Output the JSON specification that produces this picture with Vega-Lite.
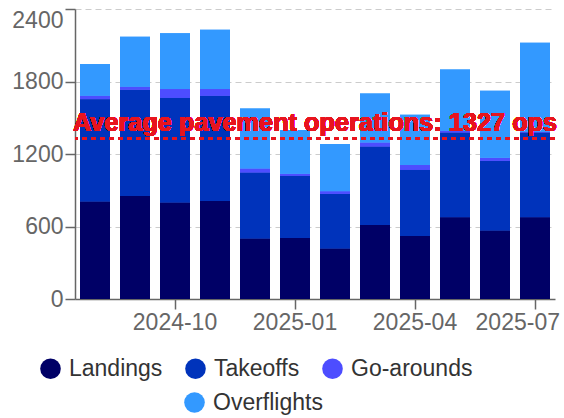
{
  "$schema": "https://vega.github.io/schema/vega-lite/v6.json",
  "width": 480,
  "height": 290,
  "padding": {"left": 11, "top": 8, "right": 0, "bottom": 5},
  "config": {
    "font": "Liberation Sans",
    "view": {"stroke": null},
    "axis": {
      "labelFont": "Liberation Sans",
      "labelFontSize": 23,
      "labelColor": "#666666",
      "domainColor": "#666666",
      "tickColor": "#666666",
      "domainWidth": 1.5,
      "tickWidth": 1.5,
      "tickSize": 10,
      "labelPadding": 2,
      "gridColor": "#cccccc",
      "gridDash": [6, 4],
      "title": null
    },
    "legend": {
      "labelFont": "Liberation Sans",
      "labelFontSize": 23,
      "labelColor": "#333333"
    }
  },
  "data": {
    "values": [
      {"month": "2024-08", "type": "Landings", "value": 806},
      {"month": "2024-08", "type": "Takeoffs", "value": 848},
      {"month": "2024-08", "type": "Go-arounds", "value": 28},
      {"month": "2024-08", "type": "Overflights", "value": 262},
      {"month": "2024-09", "type": "Landings", "value": 853},
      {"month": "2024-09", "type": "Takeoffs", "value": 879},
      {"month": "2024-09", "type": "Go-arounds", "value": 25},
      {"month": "2024-09", "type": "Overflights", "value": 414},
      {"month": "2024-10", "type": "Landings", "value": 798},
      {"month": "2024-10", "type": "Takeoffs", "value": 867},
      {"month": "2024-10", "type": "Go-arounds", "value": 72},
      {"month": "2024-10", "type": "Overflights", "value": 462},
      {"month": "2024-11", "type": "Landings", "value": 812},
      {"month": "2024-11", "type": "Takeoffs", "value": 870},
      {"month": "2024-11", "type": "Go-arounds", "value": 55},
      {"month": "2024-11", "type": "Overflights", "value": 492},
      {"month": "2024-12", "type": "Landings", "value": 500},
      {"month": "2024-12", "type": "Takeoffs", "value": 547},
      {"month": "2024-12", "type": "Go-arounds", "value": 33},
      {"month": "2024-12", "type": "Overflights", "value": 497},
      {"month": "2025-01", "type": "Landings", "value": 505},
      {"month": "2025-01", "type": "Takeoffs", "value": 514},
      {"month": "2025-01", "type": "Go-arounds", "value": 17},
      {"month": "2025-01", "type": "Overflights", "value": 362},
      {"month": "2025-02", "type": "Landings", "value": 417},
      {"month": "2025-02", "type": "Takeoffs", "value": 453},
      {"month": "2025-02", "type": "Go-arounds", "value": 22},
      {"month": "2025-02", "type": "Overflights", "value": 390},
      {"month": "2025-03", "type": "Landings", "value": 613},
      {"month": "2025-03", "type": "Takeoffs", "value": 649},
      {"month": "2025-03", "type": "Go-arounds", "value": 33},
      {"month": "2025-03", "type": "Overflights", "value": 406},
      {"month": "2025-04", "type": "Landings", "value": 522},
      {"month": "2025-04", "type": "Takeoffs", "value": 547},
      {"month": "2025-04", "type": "Go-arounds", "value": 39},
      {"month": "2025-04", "type": "Overflights", "value": 417},
      {"month": "2025-05", "type": "Landings", "value": 677},
      {"month": "2025-05", "type": "Takeoffs", "value": 701},
      {"month": "2025-05", "type": "Go-arounds", "value": 14},
      {"month": "2025-05", "type": "Overflights", "value": 508},
      {"month": "2025-06", "type": "Landings", "value": 566},
      {"month": "2025-06", "type": "Takeoffs", "value": 577},
      {"month": "2025-06", "type": "Go-arounds", "value": 25},
      {"month": "2025-06", "type": "Overflights", "value": 556},
      {"month": "2025-07", "type": "Landings", "value": 677},
      {"month": "2025-07", "type": "Takeoffs", "value": 701},
      {"month": "2025-07", "type": "Go-arounds", "value": 6},
      {"month": "2025-07", "type": "Overflights", "value": 737}
    ]
  },
  "transform": [
    {"calculate": "indexof(['Landings', 'Takeoffs', 'Go-arounds', 'Overflights'], datum.type)", "as": "stackOrder"}
  ],
  "layer": [
    {
      "mark": {"type": "bar"},
      "encoding": {
        "x": {
          "field": "month",
          "type": "ordinal",
          "scale": {"paddingInner": 0.25, "paddingOuter": 0.125},
          "axis": {
            "values": ["2024-10", "2025-01", "2025-04", "2025-07"],
            "labelAngle": 0,
            "labelAlign": {"condition": {"test": "datum.value === '2025-07'", "value": "right"}, "value": "center"},
            "labelOffset": {"condition": {"test": "datum.value === '2025-07'", "value": 25}, "value": 0}
          }
        },
        "y": {
          "field": "value",
          "type": "quantitative",
          "stack": "zero",
          "scale": {"domain": [0, 2400]},
          "axis": {
            "values": [0, 600, 1200, 1800, 2400],
            "format": "d",
            "grid": true,
            "labelBaseline": {"condition": {"test": "datum.value === 2400", "value": "top"}, "value": "middle"}
          }
        },
        "order": {"field": "stackOrder", "type": "quantitative", "sort": "ascending"},
        "color": {
          "field": "type",
          "type": "nominal",
          "scale": {
            "domain": ["Landings", "Takeoffs", "Go-arounds", "Overflights"],
            "range": ["#000066", "#0033bb", "#4d4dff", "#3399ff"]
          },
          "legend": {
            "title": null,
            "values": ["Landings", "Takeoffs", "Go-arounds"],
            "orient": "none",
            "legendX": -36,
            "legendY": 348,
            "direction": "horizontal",
            "symbolType": "circle",
            "symbolSize": 425,
            "symbolStrokeWidth": 0,
            "symbolOpacity": 1,
            "columnPadding": 21,
            "labelOffset": 7
          }
        }
      }
    },
    {
      "mark": {"type": "bar"},
      "encoding": {
        "x": {"field": "month", "type": "ordinal"},
        "y": {
          "field": "value",
          "type": "quantitative",
          "stack": "zero"
        },
        "order": {"field": "stackOrder", "type": "quantitative", "sort": "ascending"},
        "color": {
          "field": "type",
          "type": "nominal",
          "scale": {
            "domain": ["Landings", "Takeoffs", "Go-arounds", "Overflights"],
            "range": ["#000066", "#0033bb", "#4d4dff", "#3399ff"]
          },
          "legend": {
            "title": null,
            "values": ["Overflights"],
            "orient": "none",
            "legendX": 108,
            "legendY": 382,
            "direction": "horizontal",
            "symbolType": "circle",
            "symbolSize": 425,
            "symbolStrokeWidth": 0,
            "symbolOpacity": 1,
            "labelOffset": 7
          }
        }
      }
    },
    {
      "mark": {"type": "rule", "color": "#e8141e", "strokeDash": [5, 4], "strokeWidth": 2},
      "encoding": {"y": {"datum": 1327}}
    },
    {
      "mark": {
        "type": "text",
        "color": "#e8141e",
        "fontSize": 25.3,
        "fontWeight": "bold",
        "font": "Liberation Sans",
        "align": "left",
        "baseline": "alphabetic",
        "dx": -7,
        "dy": -8
      },
      "encoding": {
        "x": {"datum": "2024-08", "bandPosition": 0},
        "y": {"datum": 1327},
        "text": {"value": "Average pavement operations: 1327 ops"}
      }
    }
  ],
  "resolve": {"scale": {"color": "independent"}, "legend": {"color": "independent"}}
}
